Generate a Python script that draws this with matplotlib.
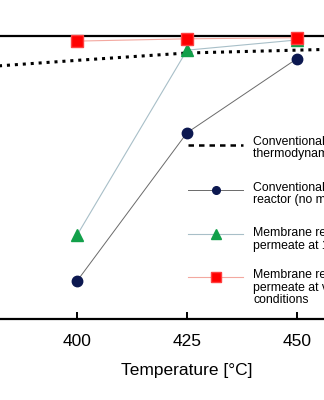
import matplotlib
matplotlib.use('Agg')
import matplotlib.pyplot as plt
from matplotlib.lines import Line2D

plt.rcParams['font.family'] = ['Liberation Sans', 'DejaVu Sans']

# conversion [%] vs temperature [C]
temps = [400, 425, 450]
conv_pbr = [56.7, 82.9, 96.0]
conv_mr_1bar = [64.8, 97.5, 99.3]
conv_mr_vac = [99.1, 99.5, 99.7]

eq_temps = [380, 400, 425, 450, 470]
conv_eq = [94.6, 95.7, 97.0, 97.5, 97.9]

labels = ['Conventional reactor\nthermodynamic equilibrium',
          'Conventional packed-bed\nreactor (no membrane)',
          'Membrane reactor -\npermeate at 1 bar',
          'Membrane reactor -\npermeate at vacuum\nconditions']

navy = '#0c1850'
green = '#12a04a'
red = '#ff0000'

W, H = 324, 400
fig = plt.figure(figsize=(W / 100, H / 100), dpi=100)
ax = fig.add_axes([-11/W, 1 - 319/H, 396/W, 283/H])

ax.plot(eq_temps, conv_eq, color='black', lw=2.2, linestyle=(0, (1, 1.6)),
        dash_capstyle='butt', zorder=2)
ax.plot(temps, conv_pbr, color='#6a6a6a', lw=0.7, marker='o', ms=7.5,
        mfc=navy, mec=navy, zorder=3, clip_on=False)
ax.plot(temps, conv_mr_1bar, color='#a8bfc8', lw=0.8, marker='^', ms=9,
        mfc=green, mec=green, zorder=4, clip_on=False)
ax.plot(temps, conv_mr_vac, color='#f3a8a0', lw=0.8, marker='s', ms=8.5,
        mfc=red, mec='#ff4040', zorder=5, clip_on=False)

ax.set_xlim(380, 470)
ax.set_ylim(50, 100)
ax.set_xticks(temps)
ax.set_yticks([])
for s in ax.spines.values():
    s.set_linewidth(1.6)
ax.tick_params(axis='x', direction='in', length=5, width=1.4, labelsize=12.5, pad=10.5)
ax.set_xlabel('Temperature [\u00b0C]', fontsize=12.5)
ax.xaxis.set_label_coords((187 + 11) / 396, -0.155)

# legend keys drawn by hand so each key sits on the first line of its label
line_styles = [
    dict(color='black', lw=1.8, linestyle=(0, (2.2, 2.0))),
    dict(color='#6a6a6a', lw=0.7),
    dict(color='#a8bfc8', lw=0.8),
    dict(color='#f3a8a0', lw=0.8),
]
marker_styles = [
    None,
    dict(marker='o', ms=5.5, mfc=navy, mec=navy),
    dict(marker='^', ms=7, mfc=green, mec=green),
    dict(marker='s', ms=7, mfc=red, mec='#ff4040'),
]
key_y = [145, 190, 234, 277]
text_y = [142, 188, 233, 275]
line_h = 12.5
for lstyle, mstyle, ky, ty, lab in zip(line_styles, marker_styles, key_y, text_y, labels):
    yk = 1 - ky / H
    fig.add_artist(Line2D([188/W, 243/W], [yk, yk], **lstyle))
    if mstyle:
        fig.add_artist(Line2D([215.5/W], [yk], linestyle='none', **mstyle))
    for i, part in enumerate(lab.split('\n')):
        fig.text(253/W, 1 - (ty + i * line_h)/H, part, fontsize=8.8,
                 va='center', ha='left')

fig.savefig('out.png', dpi=100)
